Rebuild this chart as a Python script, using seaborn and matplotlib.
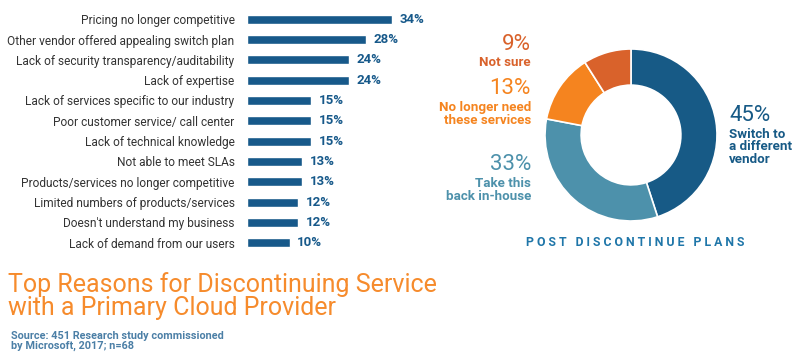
import seaborn as sns
import matplotlib.pyplot as plt
import pandas as pd

# data
reasons = [
    "Pricing no longer competitive",
    "Other vendor offered appealing switch plan",
    "Lack of security transparency/auditability",
    "Lack of expertise",
    "Lack of services specific to our industry",
    "Poor customer service/ call center",
    "Lack of technical knowledge",
    "Not able to meet SLAs",
    "Products/services no longer competitive",
    "Limited numbers of products/services",
    "Doesn't understand my business",
    "Lack of demand from our users",
]
shares = [34, 28, 24, 24, 15, 15, 15, 13, 13, 12, 12, 10]

plans = ["Switch to\na different\nvendor", "Take this\nback in-house",
         "No longer need\nthese services", "Not sure"]
plan_shares = [45, 33, 13, 9]

BAR = "#17598a"
plan_colors = ["#175a86", "#4d91ab", "#f5841f", "#d9622b"]
ORANGE = "#f68b2c"

sns.set_style("white")
plt.rcParams["font.family"] = ["Roboto", "DejaVu Sans"]

W, H = 802, 361
fig = plt.figure(figsize=(W / 100, H / 100), dpi=100)

# bar chart
df = pd.DataFrame({"reason": reasons, "share": shares})
ax = fig.add_axes([247 / W, 1 - 253 / H, 170 / W, 244 / H])
sns.barplot(data=df, x="share", y="reason", color=BAR, width=0.45,
            saturation=1, ax=ax)
ax.set_xlim(0, 40)
ax.set_xlabel("")
ax.set_ylabel("")
ax.set_xticks([])
ax.tick_params(axis="y", length=0, pad=9, labelsize=8.6, labelcolor="#333333")
sns.despine(ax=ax, left=True, bottom=True)
for p, v in zip(ax.patches, shares):
    ax.text(p.get_width() + 1.8, p.get_y() + p.get_height() / 2, f"{v}%",
            va="center", ha="left", fontsize=9.5, fontweight="bold", color=BAR)

# donut
R = 86
ax2 = fig.add_axes([(631 - R) / W, 1 - (135 + R) / H, 2 * R / W, 2 * R / H])
ax2.pie(plan_shares, colors=plan_colors, startangle=90, counterclock=False,
        radius=1, wedgeprops=dict(width=0.42, edgecolor="white", linewidth=1.2))
ax2.set_xlim(-1, 1)
ax2.set_ylim(-1, 1)
ax2.set_aspect("equal")

def ft(x, y, s, **kw):
    fig.text(x / W, 1 - y / H, s, **kw)

# donut labels
PCT = 16
LAB = 9.6
ft(531, 45, f"{plan_shares[3]}%", ha="right", va="center", fontsize=PCT, color=plan_colors[3])
ft(531, 63, plans[3], ha="right", va="center", fontsize=LAB, fontweight="bold", color=plan_colors[3])
ft(531, 88, f"{plan_shares[2]}%", ha="right", va="center", fontsize=PCT, color=plan_colors[2])
ft(531, 114, plans[2], ha="right", va="center", fontsize=LAB, fontweight="bold",
   color=plan_colors[2], linespacing=1.0)
ft(531, 164, f"{plan_shares[1]}%", ha="right", va="center", fontsize=PCT, color=plan_colors[1])
ft(531, 190, plans[1], ha="right", va="center", fontsize=LAB, fontweight="bold",
   color=plan_colors[1], linespacing=1.0)
ft(729, 115, f"{plan_shares[0]}%", ha="left", va="center", fontsize=PCT, color=plan_colors[0])
ft(729, 147, plans[0], ha="left", va="center", fontsize=LAB, fontweight="bold",
   color=plan_colors[0], linespacing=0.95)
ft(635, 243, "P O S T   D I S C O N T I N U E   P L A N S", ha="center", va="center",
   fontsize=8.8, fontweight="bold", color="#1f76a9")

# title & source
ft(8, 296, "Top Reasons for Discontinuing Service\nwith a Primary Cloud Provider",
   ha="left", va="center", fontsize=18, color=ORANGE, linespacing=0.92)
ft(11, 341, "Source: 451 Research study commissioned\nby Microsoft, 2017; n=68",
   ha="left", va="center", fontsize=7.8, fontweight="bold", color="#4b7fa6", linespacing=1.0)

fig.savefig("out.png", dpi=100)
plt.close(fig)
